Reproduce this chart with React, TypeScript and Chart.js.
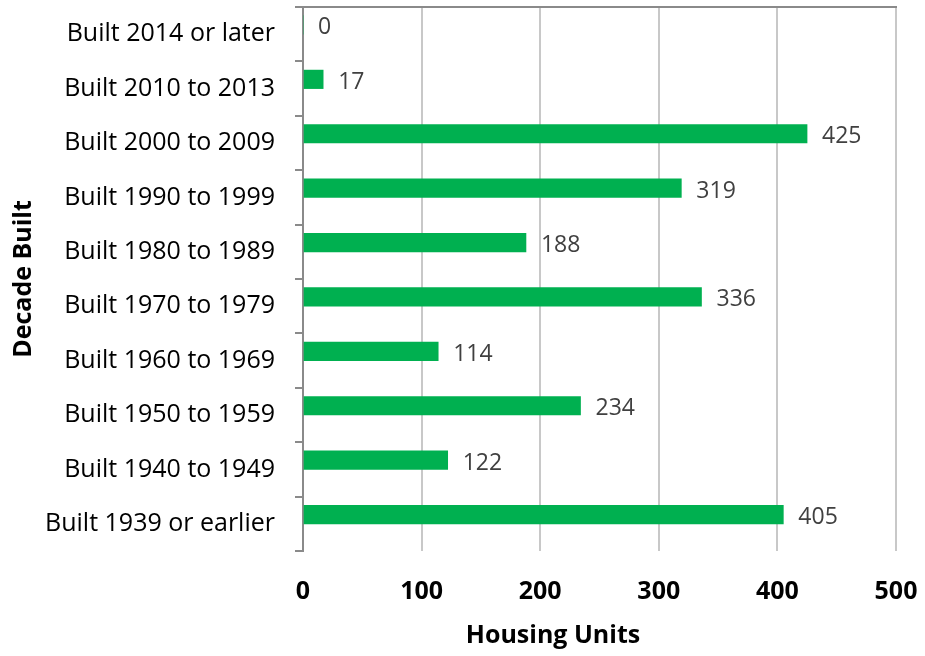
import React, { useEffect, useRef } from "react";
import { Chart, registerables } from "chart.js";

Chart.register(...registerables);

const categories = [
  "Built 2014 or later",
  "Built 2010 to 2013",
  "Built 2000 to 2009",
  "Built 1990 to 1999",
  "Built 1980 to 1989",
  "Built 1970 to 1979",
  "Built 1960 to 1969",
  "Built 1950 to 1959",
  "Built 1940 to 1949",
  "Built 1939 or earlier",
];
const housingUnits = [0, 17, 425, 319, 188, 336, 114, 234, 122, 405];
// Empty second slot in each group, so the bars sit in the upper half of each row.
const spacerSeries = categories.map(() => null);
const xTicks = [0, 100, 200, 300, 400, 500];
const xTitle = "Housing Units";

const FONT = "'Open Sans', 'Noto Sans', sans-serif";
const AXIS_GRAY = "#8a8a8a";

// Writes each bar's value just past its end.
const valueLabels = {
  id: "valueLabels",
  afterDatasetsDraw(chart: any) {
    const ctx = chart.ctx;
    const meta = chart.getDatasetMeta(0);
    const data = chart.data.datasets[0].data as number[];
    ctx.save();
    ctx.font = `23px ${FONT}`;
    ctx.fillStyle = "#404040";
    ctx.textAlign = "left";
    ctx.textBaseline = "middle";
    meta.data.forEach((bar: any, i: number) => {
      ctx.fillText(String(data[i]), bar.x + 15, bar.y + 3);
    });
    ctx.restore();
  },
};

// Horizontal rule along the top of the plot area, plus the horizontal axis title.
const frameExtras = {
  id: "frameExtras",
  afterDraw(chart: any) {
    const { ctx, chartArea } = chart;
    ctx.save();
    ctx.strokeStyle = AXIS_GRAY;
    ctx.lineWidth = 2;
    ctx.beginPath();
    ctx.moveTo(chartArea.left - 8, chartArea.top);
    ctx.lineTo(chartArea.right + 1, chartArea.top);
    ctx.stroke();

    ctx.font = `bold 25px ${FONT}`;
    ctx.fillStyle = "#000000";
    ctx.textAlign = "center";
    ctx.textBaseline = "middle";
    ctx.fillText(xTitle, 553, chartArea.bottom + 85);
    ctx.restore();
  },
};

export default function App() {
  const canvasRef = useRef<HTMLCanvasElement | null>(null);

  useEffect(() => {
    if (!canvasRef.current) return;
    const chart = new Chart(canvasRef.current, {
      type: "bar",
      data: {
        labels: categories,
        datasets: [
          {
            data: housingUnits,
            backgroundColor: "#00b050",
            barThickness: 18.5,
          },
          {
            data: spacerSeries,
            backgroundColor: "rgba(0,0,0,0)",
            barThickness: 18.5,
          },
        ],
      },
      plugins: [valueLabels, frameExtras],
      options: {
        indexAxis: "y",
        animation: false,
        responsive: false,
        maintainAspectRatio: false,
        layout: { padding: { top: 7, right: 29, left: 0, bottom: 0 } },
        plugins: {
          legend: { display: false },
          tooltip: { enabled: false },
        },
        scales: {
          x: {
            min: 0,
            max: 500,
            afterBuildTicks: (scale: any) => {
              scale.ticks = xTicks.map((v) => ({ value: v }));
            },
            afterFit: (scale: any) => {
              scale.height = 105;
              scale.paddingLeft = 0;
              scale.paddingRight = 0;
            },
            grid: {
              color: "#c8c8c8",
              lineWidth: 2,
              drawTicks: false,
            },
            border: { display: false },
            ticks: {
              padding: 26,
              color: "#000000",
              font: { family: FONT, size: 25, weight: "bold" },
            },
          },
          y: {
            afterFit: (scale: any) => {
              scale.width = 303;
              scale.paddingTop = 0;
              scale.paddingBottom = 0;
            },
            grid: {
              offset: true,
              drawOnChartArea: false,
              drawTicks: true,
              tickLength: 8,
              color: AXIS_GRAY,
              lineWidth: 2,
            },
            border: { display: true, color: AXIS_GRAY, width: 2 },
            ticks: {
              padding: 20,
              color: "#000000",
              font: { family: FONT, size: 25 },
            },
            title: {
              display: true,
              text: "Decade Built",
              color: "#000000",
              font: { family: FONT, size: 25, weight: "bold" },
              padding: { top: 9, bottom: 0 },
            },
          },
        },
      },
    });
    return () => chart.destroy();
  }, []);

  return (
    <div style={{ position: "absolute", left: 0, top: 0, width: 925, height: 656, background: "#ffffff" }}>
      <canvas ref={canvasRef} width={925} height={656} />
    </div>
  );
}
